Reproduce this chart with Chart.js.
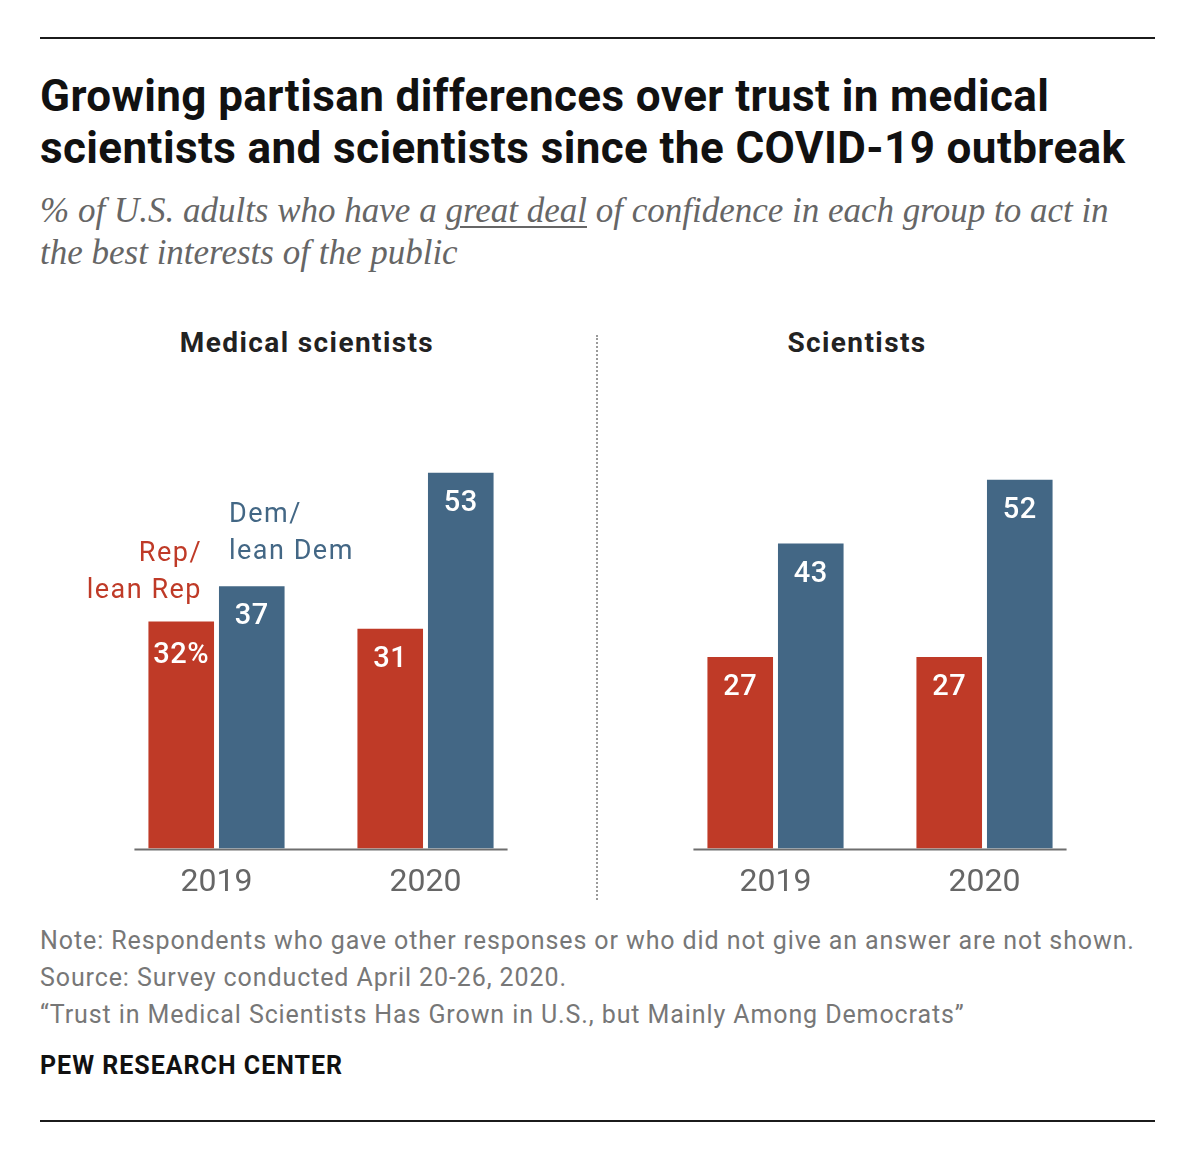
<!DOCTYPE html>
<html>
<head>
<meta charset="utf-8">
<script src="https://cdn.jsdelivr.net/npm/chart.js@4"></script>
<style>
  body { margin: 0; background: #fff; }
  #page { position: relative; width: 1200px; height: 1160px; overflow: hidden; background: #fff; font-family: Roboto, "Liberation Sans", sans-serif; }
  .rule { position: absolute; left: 40px; width: 1115px; height: 2px; background: #1b1b1b; }
  #title { position: absolute; left: 40px; top: 70px; white-space: nowrap; font-size: 44px; line-height: 52px; font-weight: 700; color: #111; letter-spacing: 0.4px; }
  #subtitle { position: absolute; left: 40px; top: 190px; white-space: nowrap; font-family: "Liberation Serif", "DejaVu Serif", serif; font-style: italic; font-size: 35px; line-height: 42px; color: #666; }
  #subtitle u { text-decoration-thickness: 1.5px; text-underline-offset: 4px; }
  .ptitle { position: absolute; top: 327px; width: 420px; text-align: center; font-size: 28px; line-height: 32px; font-weight: 700; color: #222; letter-spacing: 1.4px; }
  #divider { position: absolute; left: 596px; top: 335px; height: 565px; border-left: 2px dotted #9a9a9a; }
  .chartbox { position: absolute; width: 468px; height: 494px; top: 423px; }
  #footer { position: absolute; left: 40px; top: 922px; white-space: nowrap; font-size: 25px; line-height: 37px; color: #777; letter-spacing: 0.9px; }
  #pew { position: absolute; left: 40px; top: 1051px; font-size: 25px; line-height: 30px; font-weight: 700; color: #111; letter-spacing: 1px; }
</style>
</head>
<body>
<div id="page">
  <div class="rule" style="top:37px"></div>
  <div id="title">Growing partisan differences over trust in medical<br>scientists and scientists since the COVID-19 outbreak</div>
  <div id="subtitle">% of U.S. adults who have a <u>great deal</u> of confidence in each group to act in<br>the best interests of the public</div>
  <div class="ptitle" id="pt0" style="left:97px"></div>
  <div class="ptitle" id="pt1" style="left:647px"></div>
  <div id="divider"></div>
  <div class="chartbox" style="left:62px"><canvas id="c0"></canvas></div>
  <div class="chartbox" style="left:621px"><canvas id="c1"></canvas></div>
  <div id="footer">Note: Respondents who gave other responses or who did not give an answer are not shown.<br>Source: Survey conducted April 20-26, 2020.<br>“Trust in Medical Scientists Has Grown in U.S., but Mainly Among Democrats”</div>
  <div id="pew">PEW RESEARCH CENTER</div>
  <div class="rule" style="top:1120px"></div>
</div>
<script>
// ---- data ----
const years = ['2019', '2020'];
const panelTitles = ['Medical scientists', 'Scientists'];
const seriesNames = ['Rep/lean Rep', 'Dem/lean Dem'];
const repMedical = [32, 31];
const demMedical = [37, 53];
const repScientists = [27, 27];
const demScientists = [43, 52];

const RED = '#bf3a27';
const BLUE = '#436785';
const FONT = 'Roboto, "Liberation Sans", sans-serif';

document.getElementById('pt0').textContent = panelTitles[0];
document.getElementById('pt1').textContent = panelTitles[1];

const decorPlugin = {
  id: 'decor',
  beforeDatasetsDraw(chart) {
    const ctx = chart.ctx;
    const first = chart.getDatasetMeta(0).data[0];
    const lastMeta = chart.getDatasetMeta(chart.data.datasets.length - 1);
    const last = lastMeta.data[lastMeta.data.length - 1];
    const yb = chart.scales.y.getPixelForValue(0);
    ctx.save();
    ctx.strokeStyle = '#6e6e6e';
    ctx.lineWidth = 2;
    ctx.beginPath();
    ctx.moveTo(first.x - first.width / 2 - 14, yb + 1);
    ctx.lineTo(last.x + last.width / 2 + 14, yb + 1);
    ctx.stroke();
    ctx.restore();
  },
  afterDatasetsDraw(chart, args, opts) {
    const ctx = chart.ctx;
    ctx.save();
    ctx.textAlign = 'center';
    ctx.textBaseline = 'middle';
    ctx.fillStyle = '#ffffff';
    ctx.font = '500 29px ' + FONT;
    ctx.letterSpacing = '0.5px';
    chart.data.datasets.forEach((ds, di) => {
      chart.getDatasetMeta(di).data.forEach((bar, i) => {
        let txt = String(ds.data[i]);
        if (opts.percentFirst && di === 0 && i === 0) txt += '%';
        ctx.fillText(txt, bar.x, bar.y + (txt.endsWith('%') ? 34 : 31));
      });
    });
    if (opts.annotate) {
      ctx.font = '400 27px ' + FONT;
      ctx.letterSpacing = '1.5px';
      const rb = chart.getDatasetMeta(0).data[0];
      const db = chart.getDatasetMeta(1).data[0];
      const repLines = ['Rep/', 'lean Rep'];
      const demLines = ['Dem/', 'lean Dem'];
      ctx.fillStyle = RED;
      ctx.textAlign = 'right';
      ctx.fillText(repLines[0], rb.x + rb.width / 2 - 12, rb.y - 67);
      ctx.fillText(repLines[1], rb.x + rb.width / 2 - 12, rb.y - 30);
      ctx.fillStyle = BLUE;
      ctx.textAlign = 'left';
      ctx.fillText(demLines[0], db.x - db.width / 2 + 10, db.y - 71);
      ctx.fillText(demLines[1], db.x - db.width / 2 + 10, db.y - 34);
    }
    ctx.restore();
  }
};

function makeChart(id, rep, dem, percentFirst, annotate) {
  return new Chart(document.getElementById(id), {
    type: 'bar',
    data: {
      labels: years,
      datasets: [
        { label: seriesNames[0], data: rep, backgroundColor: RED, borderWidth: 0 },
        { label: seriesNames[1], data: dem, backgroundColor: BLUE, borderWidth: 0 }
      ]
    },
    options: {
      responsive: true,
      maintainAspectRatio: false,
      animation: false,
      events: [],
      categoryPercentage: 0.675,
      barPercentage: 0.93,
      layout: { padding: { left: 50, right: 0, top: 0, bottom: 0 } },
      plugins: {
        legend: { display: false },
        tooltip: { enabled: false },
        decor: { percentFirst: percentFirst, annotate: annotate }
      },
      scales: {
        x: {
          grid: { display: false, drawTicks: false },
          border: { display: false },
          ticks: { color: '#666', font: { family: FONT, size: 32 }, padding: 15 }
        },
        y: { display: false, min: 0, max: 60 }
      }
    },
    plugins: [decorPlugin]
  });
}

makeChart('c0', repMedical, demMedical, true, true);
makeChart('c1', repScientists, demScientists, false, false);
</script>
</body>
</html>
